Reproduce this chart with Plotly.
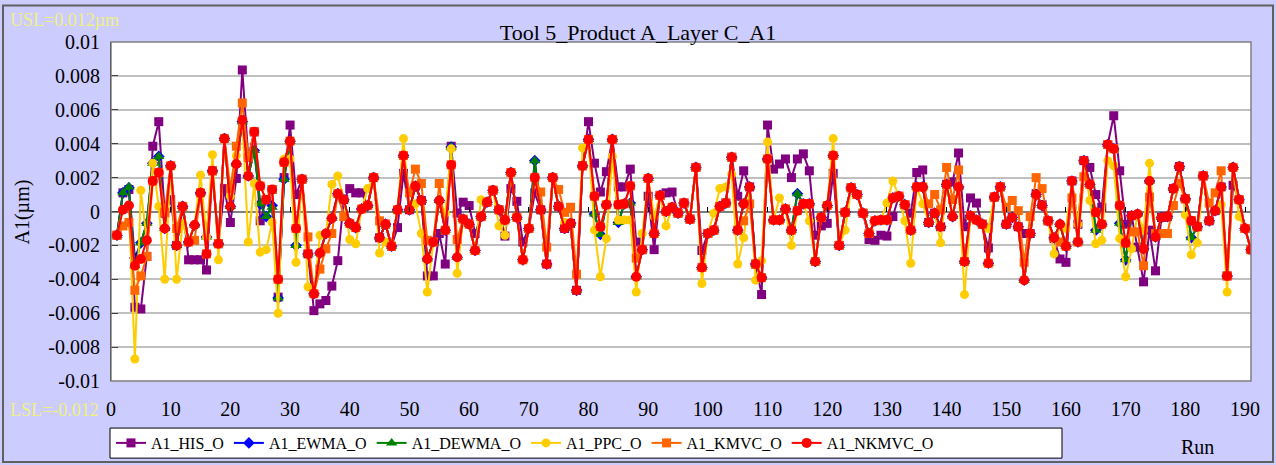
import plotly.graph_objects as go

# Run index (x axis)
runs = list(range(1, 192))

# Series values in nm (0.001 um)
his_nm = [
    -1.4, 1.1, 1.3, -5.65, -5.75, -2.65, 3.85, 5.3, -0.1, 0.7,
    -2.0, 0.3, -2.85, -2.85, -2.85, -3.45, 2.4, -1.9, 1.35, -0.65,
    1.95, 8.35, 3.2, 4.7, -0.55, 0.7, 1.3, -5.05, 2.0, 5.1,
    1.0, 1.9, -2.5, -5.85, -5.45, -5.25, -4.4, -2.9, 0.7, 1.35,
    1.1, 1.1, 0.35, 2.0, -1.55, -0.75, -2.05, -0.95, 2.25, 0.1,
    1.5, 0.65, -3.8, -3.8, -1.3, -3.1, 3.85, -0.1, 0.55, 0.35,
    -1.3, -0.3, 0.55, 1.25, 0.1, -1.45, 1.35, 0.6, -1.8, -1.0,
    1.1, 0.1, -3.1, 2.0, 0.3, -1.0, -0.7, -4.65, 2.7, 5.3,
    2.85, 1.15, 2.35, 4.25, 1.45, 1.45, 2.5, -1.8, -2.25, 0.9,
    -2.25, 0.95, 1.1, 1.15, -0.1, 0.5, -0.45, 2.6, -2.3, -1.3,
    -1.1, 0.3, 0.5, 3.2, 0.9, 2.4, 1.45, -3.1, -4.9, 5.1,
    2.5, 2.8, 3.1, 2.0, 3.1, 3.4, 2.4, -1.4, -0.85, -0.7,
    2.25, -2.0, -0.05, 1.4, 1.0, -0.1, -1.65, -1.7, -1.4, -1.45,
    -0.3, 0.9, 0.4, -0.1, 2.3, 2.45, -0.65, -0.1, -0.9, 1.6,
    1.75, 3.45, -0.9, 0.8, 0.5, -0.75, -2.15, 0.85, 1.45, -0.75,
    -0.35, -0.9, -1.3, -1.3, 1.05, 0.4, -0.55, -1.6, -2.8, -3.0,
    1.8, -0.75, 3.0, 2.6, 1.0, 0.25, 3.95, 5.65, 2.4, -0.75,
    -0.25, -2.1, -4.15, -1.1, -3.5, -0.35, -0.3, 1.35, 2.65, 0.75,
    -0.55, -0.9, 2.1, -0.55, 0.05, 1.45, -3.8, 1.55, 0.7, -1.0,
    -2.25,
]

ewma_nm = [
    -1.4, 1.1, 1.4, -2.75, -1.85, -0.7, 2.85, 3.25, -1.0, 2.7,
    -2.0, 0.3, -1.8, -0.8, 1.1, -1.5, 2.4, -1.9, 4.3, 0.3,
    2.8, 5.3, 2.1, 3.6, 0.45, -0.3, 0.35, -5.1, 1.9, 4.15,
    -2.0, 1.9, -2.5, -4.85, -2.45, -1.3, -0.4, 1.05, 0.7, -0.7,
    -0.95, 0.15, 0.35, 2.0, -1.55, -0.75, -2.05, 0.1, 3.3, 0.1,
    1.5, 0.65, -2.8, -1.8, 0.65, -1.1, 3.8, -2.7, -0.45, -0.75,
    -2.3, -0.3, 0.55, 1.25, 0.1, -0.5, 2.3, -0.35, -2.85, -1.0,
    3.0, 0.1, -3.1, 2.0, 0.3, -1.0, -0.7, -4.65, 2.7, 4.25,
    -0.15, -1.35, 0.4, 4.25, -0.65, 0.45, 0.5, -3.85, -2.25, 1.95,
    -1.3, 0.95, 0.0, 0.25, -0.1, 0.5, -0.45, 2.6, -3.3, -1.3,
    -1.1, 0.3, 0.5, 3.2, -1.1, 0.45, 1.45, -3.1, -3.9, 3.1,
    -0.5, -0.5, 0.15, -1.1, 1.05, 0.45, 0.45, -2.95, -0.35, 0.35,
    3.3, -2.0, -0.05, 1.4, 1.0, -0.1, -1.3, -0.55, -0.5, -0.5,
    0.8, 0.9, 0.4, -1.1, 1.45, 1.45, -0.65, -0.1, -0.9, 1.6,
    -0.3, 1.45, -2.95, -0.25, -0.5, -0.75, -3.05, 0.85, 1.45, -0.75,
    -0.35, -0.9, -4.05, -1.3, 1.0, 0.35, -0.55, -1.55, -0.75, -2.05,
    1.8, -1.8, 3.0, 1.6, -1.1, -0.75, 3.95, 3.7, -0.7, -2.85,
    -0.25, -0.15, -2.2, 1.8, -1.5, -0.35, -0.3, 1.35, 2.65, 0.75,
    -1.55, -0.9, 2.1, -0.55, 0.05, 1.45, -3.8, 2.6, 0.7, -1.0,
    -2.25,
]

dewma_nm = [
    -1.4, 1.1, 1.45, -3.2, -1.85, -0.7, 2.85, 3.25, -1.0, 2.7,
    -2.0, 0.3, -1.8, -0.8, 1.1, -1.5, 2.4, -1.9, 4.3, 0.3,
    2.8, 5.3, 2.1, 3.6, 0.45, -0.3, 0.25, -5.1, 1.9, 4.15,
    -2.0, 1.9, -2.5, -4.85, -2.45, -1.3, -0.4, 1.05, 0.7, -0.7,
    -0.95, 0.15, 0.35, 2.0, -1.55, -0.75, -2.05, 0.1, 3.3, 0.1,
    1.5, 0.65, -2.8, -1.8, 0.65, -1.1, 3.8, -2.7, -0.45, -0.75,
    -2.3, -0.3, 0.55, 1.25, 0.1, -0.5, 2.3, -0.35, -2.85, -1.0,
    3.0, 0.1, -3.1, 2.0, 0.3, -1.0, -0.7, -4.65, 2.7, 4.25,
    -0.15, -1.35, 0.4, 4.25, -0.65, 0.45, 0.5, -3.85, -2.25, 1.95,
    -1.3, 0.95, 0.0, 0.25, -0.1, 0.5, -0.45, 2.6, -3.3, -1.3,
    -1.1, 0.3, 0.5, 3.2, -1.1, 0.45, 1.45, -3.1, -3.9, 3.1,
    -0.5, -0.5, 0.15, -1.1, 1.05, 0.45, 0.45, -2.95, -0.35, 0.35,
    3.3, -2.0, -0.05, 1.4, 1.0, -0.1, -1.3, -0.55, -0.5, -0.5,
    0.8, 0.9, 0.4, -1.1, 1.45, 1.45, -0.65, -0.1, -0.9, 1.6,
    -0.3, 1.45, -2.95, -0.25, -0.5, -0.75, -3.05, 0.85, 1.45, -0.75,
    -0.35, -0.9, -4.05, -1.3, 1.0, 0.35, -0.55, -1.55, -0.75, -2.05,
    1.8, -1.8, 3.0, 1.6, -1.1, -0.75, 3.95, 3.7, -0.7, -2.85,
    -0.25, -0.15, -2.2, 1.8, -1.5, -0.35, -0.3, 1.35, 2.65, 0.75,
    -1.55, -0.9, 2.1, -0.55, 0.05, 1.45, -3.8, 2.6, 0.7, -1.0,
    -2.25,
]

ppc_nm = [
    -1.4, 0.1, 0.35, -8.7, 1.25, -1.7, 2.85, 0.3, -4.0, 2.7,
    -4.0, -0.7, -1.8, -0.8, 2.15, -1.5, 3.35, -2.85, 4.3, 0.9,
    3.3, 5.4, -1.8, 1.65, -2.4, -2.25, -0.65, -6.0, 3.1, 3.1,
    -3.0, 1.9, -4.45, -4.85, -1.4, -1.3, 1.6, 2.1, 0.7, -1.65,
    -1.9, 0.15, 1.35, 2.0, -2.45, -1.8, -2.05, 0.1, 4.3, 0.1,
    0.45, -1.3, -4.75, -1.8, 0.65, -0.1, 3.7, -3.65, -0.45, -0.75,
    -2.3, 0.7, 0.55, 1.25, -0.85, -1.4, 2.3, -0.35, -2.85, -1.0,
    2.0, 0.1, -3.1, 2.0, 0.3, -0.65, -0.7, -4.65, 3.75, 4.25,
    -1.1, -3.85, -1.6, 3.25, -0.5, -0.5, -0.5, -4.75, -1.3, 1.95,
    -0.3, 0.95, -0.85, 0.25, -0.1, 0.5, -0.45, 2.6, -4.25, -1.3,
    -0.1, 1.35, 1.45, 2.2, -3.1, -1.55, 1.45, -4.05, -2.9, 4.1,
    -0.5, 0.8, 0.15, -2.0, 0.05, 0.45, -0.55, -2.95, -0.35, 0.35,
    4.3, -2.0, -1.1, 1.4, 1.0, -0.1, -1.3, -0.55, -0.5, 0.5,
    1.8, 0.9, -0.55, -3.05, 1.45, 0.45, -0.65, -0.1, -1.85, 1.6,
    -0.3, 1.45, -4.9, -0.25, -0.5, -0.75, -1.0, 0.85, 1.45, -0.75,
    -0.35, -0.9, -4.05, -1.3, 1.0, 0.35, -0.55, -2.5, -0.75, -1.0,
    1.8, -0.75, 3.0, 0.65, -1.9, -1.7, 3.0, 2.7, -1.6, -3.85,
    -2.2, -0.15, -1.1, 2.85, -1.5, -0.35, -0.3, 1.35, 2.65, -0.2,
    -2.55, -1.85, 2.1, -0.55, 0.05, 0.4, -4.75, 2.6, -0.3, -1.0,
    -2.25,
]

kmvc_nm = [
    -1.4, -0.85, -0.65, -4.65, -3.8, -2.65, 1.8, 2.3, -0.05, 2.7,
    -1.0, 0.3, -1.8, -1.7, 1.1, -2.5, 2.4, -1.9, 4.3, 1.35,
    3.85, 6.4, 3.2, 4.7, 1.5, 0.7, 1.3, -4.0, 2.9, 4.15,
    -1.0, 1.9, -1.5, -4.85, -3.4, -2.2, -1.3, 1.05, -0.3, -0.7,
    -0.95, 0.15, 0.35, 2.0, -0.55, -0.75, -2.05, 0.1, 3.3, 1.1,
    2.5, 1.65, -1.7, -1.8, 1.65, -1.1, 2.75, -1.65, -0.45, -0.75,
    -2.3, -0.3, 0.55, 1.25, 0.1, -0.5, 2.3, -0.35, -2.85, -1.0,
    2.0, 1.15, -2.1, 2.0, 1.3, -0.05, 0.25, -3.7, 2.7, 4.25,
    0.9, -0.9, 0.4, 4.25, 0.4, 0.45, 1.5, -2.75, -2.25, 1.95,
    -1.3, 0.95, 0.0, 0.25, -0.1, 0.5, -0.45, 2.6, -3.3, -1.3,
    -1.1, 0.3, 0.5, 3.2, -1.1, -0.55, 0.45, -3.1, -3.9, 3.1,
    -0.5, -0.5, 0.15, -1.1, 0.05, 0.45, 0.45, -2.95, -0.35, 0.35,
    3.3, -2.0, -0.05, 1.4, 1.0, -0.1, -1.3, -0.55, -0.5, -0.5,
    0.8, 0.9, 0.4, -1.1, 1.45, 1.45, 0.45, 1.0, 0.1, 2.6,
    0.7, 2.45, -2.95, -0.25, -0.5, -0.75, -3.05, 0.85, 1.45, 0.25,
    0.65, 0.05, -3.0, -0.3, 2.0, 1.35, -0.55, -1.55, -1.8, -2.05,
    0.8, -1.8, 2.05, 1.6, -0.05, -0.75, 3.95, 3.7, 0.35, -1.85,
    -1.2, -1.2, -3.2, 0.85, -1.3, -1.3, -1.3, 0.35, 1.65, 0.75,
    -0.55, -0.9, 2.1, 0.5, 1.1, 2.4, -3.8, 2.6, 0.7, -1.0,
    -2.25,
]

nkmvc_nm = [
    -1.4, 0.1, 0.35, -3.2, -2.8, -1.7, 1.8, 2.3, -1.0, 2.7,
    -2.0, 0.3, -1.8, -0.8, 1.1, -2.5, 2.4, -1.9, 4.3, 0.3,
    2.8, 5.4, 2.1, 4.7, 1.5, 0.7, 1.3, -4.0, 2.9, 4.15,
    -1.0, 1.9, -2.5, -4.85, -2.45, -1.3, -0.4, 1.05, 0.7, -0.7,
    -0.95, 0.15, 0.35, 2.0, -1.55, -0.75, -2.05, 0.1, 3.3, 0.1,
    1.5, 0.65, -2.8, -1.8, 0.65, -1.1, 2.75, -2.7, -0.45, -0.75,
    -2.3, -0.3, 0.55, 1.25, 0.1, -0.5, 2.3, -0.35, -2.85, -1.0,
    2.0, 0.1, -3.1, 2.0, 0.3, -1.0, -0.7, -4.65, 2.7, 4.25,
    0.9, -0.9, 0.4, 4.25, 0.4, 0.45, 1.5, -3.85, -2.25, 1.95,
    -1.3, 0.95, 0.0, 0.25, -0.1, 0.5, -0.45, 2.6, -3.3, -1.3,
    -1.1, 0.3, 0.5, 3.2, -1.1, 0.45, 1.45, -3.1, -3.9, 3.1,
    -0.5, -0.5, 0.15, -1.1, 0.05, 0.45, 0.45, -2.95, -0.35, 0.35,
    3.3, -2.0, -0.05, 1.4, 1.0, -0.1, -1.3, -0.55, -0.5, -0.5,
    0.8, 0.9, 0.4, -1.1, 1.45, 1.45, -0.65, -0.1, -0.9, 1.6,
    -0.3, 1.45, -2.95, -0.25, -0.5, -0.75, -3.05, 0.85, 1.45, -0.75,
    -0.35, -0.9, -4.05, -1.3, 1.0, 0.35, -0.55, -1.55, -0.75, -2.05,
    1.8, -1.8, 3.0, 1.6, -0.05, -0.75, 3.95, 3.7, 0.35, -1.85,
    -0.25, -0.15, -2.2, 1.8, -1.5, -0.35, -0.3, 1.35, 2.65, 0.75,
    -0.55, -0.9, 2.1, -0.55, 0.05, 1.45, -3.8, 2.6, 0.7, -1.0,
    -2.25,
]

series_names = ["A1_HIS_O", "A1_EWMA_O", "A1_DEWMA_O", "A1_PPC_O", "A1_KMVC_O", "A1_NKMVC_O"]
series_values = [his_nm, ewma_nm, dewma_nm, ppc_nm, kmvc_nm, nkmvc_nm]

# Axis tick labels
x_tick_vals = list(range(0, 191, 10))
y_tick_vals = [0.01, 0.008, 0.006, 0.004, 0.002, 0, -0.002, -0.004, -0.006, -0.008, -0.01]
y_tick_text = ["0.01", "0.008", "0.006", "0.004", "0.002", "0", "-0.002", "-0.004", "-0.006", "-0.008", "-0.01"]

colors = ["#800080", "#0000FF", "#008000", "#FFCC00", "#FF6600", "#FF0000"]
symbols = ["square", "diamond", "triangle-up", "circle", "square", "circle"]
sizes = [9, 9, 10, 9, 9, 10]

SERIF = "Liberation Serif, Times New Roman, serif"

fig = go.Figure()
for name, vals, col, sym, sz in zip(series_names, series_values, colors, symbols, sizes):
    fig.add_trace(go.Scatter(
        x=runs, y=[v / 1000.0 for v in vals], name=name, mode="lines+markers",
        line=dict(color=col, width=2),
        marker=dict(symbol=sym, size=sz, color=col, line=dict(width=0)),
    ))

# helper axis drawn on the zero line to carry the run tick marks
fig.add_trace(go.Scatter(x=[None], y=[None], xaxis="x2", showlegend=False, hoverinfo="skip"))

fig.update_layout(
    width=1276, height=465,
    margin=dict(l=111, r=25, t=42, b=84, autoexpand=False),
    paper_bgcolor="#CCCCFF",
    plot_bgcolor="#FFFFFF",
    font=dict(family=SERIF, color="#000000", size=18),
    title=dict(text="Tool 5_Product A_Layer C_A1", x=0.5, xref="container", xanchor="center",
               y=1 - 32 / 465, yref="container", yanchor="middle",
               font=dict(family=SERIF, size=22, color="#000000")),
    xaxis=dict(range=[0, 191], tickvals=x_tick_vals, ticks="", showgrid=False, zeroline=False,
               showline=False, tickfont=dict(family=SERIF, size=20), ticklabelstandoff=14,
               automargin=False),
    xaxis2=dict(range=[0, 191], overlaying="x", anchor="free", position=0.5, tickvals=x_tick_vals,
                ticks="inside", ticklen=5, tickcolor="#000000", tickwidth=1, showticklabels=False,
                showgrid=False, zeroline=False, showline=False, automargin=False),
    yaxis=dict(range=[-0.01, 0.01], tickvals=y_tick_vals, ticktext=y_tick_text,
               showgrid=True, gridcolor="#C0C0C0", gridwidth=1.5,
               zeroline=True, zerolinecolor="#808080", zerolinewidth=2,
               showline=True, linecolor="#000000", linewidth=1,
               ticks="inside", ticklen=7, tickcolor="#404040",
               tickfont=dict(family=SERIF, size=20), ticklabelstandoff=6, automargin=False),
    legend=dict(orientation="h", x=0.0, xref="paper", y=1 - 426 / 465, yref="container",
                xanchor="left", yanchor="top",
                bgcolor="rgba(0,0,0,0)", borderwidth=0,
                font=dict(family=SERIF, size=16), itemwidth=30),
    shapes=[
        dict(type="rect", xref="paper", yref="paper", x0=0, x1=1, y0=0, y1=1,
             line=dict(color="#808080", width=1.5), layer="above"),
        dict(type="rect", xref="paper", yref="paper",
             x0=(3 - 111) / 1140, x1=(1273 - 111) / 1140,
             y0=(381 - 462) / 338.5, y1=(381 - 6) / 338.5,
             line=dict(color="#606060", width=2), layer="below"),
        # legend frame
        dict(type="rect", xref="paper", yref="paper",
             x0=(110 - 111) / 1140, x1=(1062 - 111) / 1140,
             y0=(381 - 458) / 338.5, y1=(381 - 428) / 338.5,
             line=dict(color="#000000", width=1), fillcolor="#FFFFFF", layer="above"),
    ],
    annotations=[
        dict(text="USL=0.012µm", xref="paper", yref="paper", x=(8 - 111) / 1140, y=(381 - 21) / 338.5,
             xanchor="left", yanchor="middle", showarrow=False,
             font=dict(family=SERIF, size=18, color="#F0F080")),
        dict(text="LSL=-0.012", xref="paper", yref="paper", x=(8 - 111) / 1140, y=(381 - 410) / 338.5,
             xanchor="left", yanchor="middle", showarrow=False,
             font=dict(family=SERIF, size=18, color="#F0F080")),
        dict(text="A1(µm)", xref="paper", yref="paper", x=(22 - 111) / 1140, y=0.5,
             xanchor="center", yanchor="middle", showarrow=False, textangle=-90,
             font=dict(family=SERIF, size=20, color="#000000")),
        dict(text="Run", xref="paper", yref="paper", x=(1197 - 111) / 1140, y=(381 - 447) / 338.5,
             xanchor="center", yanchor="middle", showarrow=False,
             font=dict(family=SERIF, size=20, color="#000000")),
    ],
)

fig.write_html("out.html")
